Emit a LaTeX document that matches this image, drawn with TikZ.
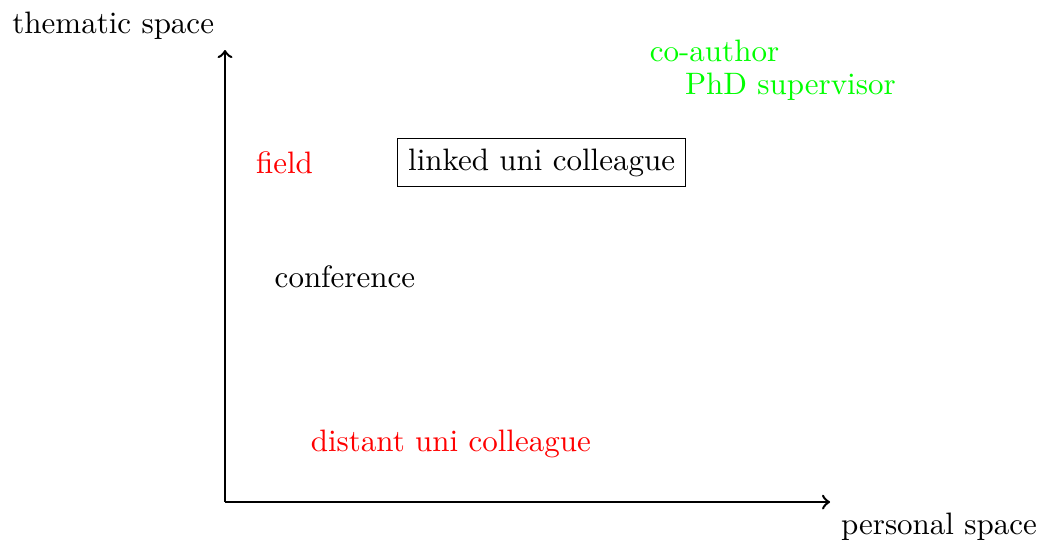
\documentclass[tikz,border=0pt]{standalone}
\usepackage[]{xcolor}
\usepackage{tikz}
\usetikzlibrary{arrows, calc}
\tikzset{axis arrow/.style = {thick, ->}}

\begin{document}
\begin{tikzpicture}
	\def\W{6.86}
	\def\H{5.125}
	\useasboundingbox (-2.551,-0.442) rectangle (9.263,5.692);
	
	\coordinate (O) at (0,0);
	\coordinate (xend) at (\W,0);
	\coordinate (yend) at (0,\H);
	
	\draw[axis arrow]	(O) -- (xend);
	\draw[axis arrow]	(O) -- (yend);
	
	\node[below right] (xlabel) at (xend) {personal space};
	\node[above left] (ylabel) at (yend) {thematic space};
	
	\node[red] (field) at (0.675,3.85) {field};
	\node[draw] (linked) at (3.59,3.85) {linked uni colleague};
	\node (conf) at (1.36,2.55) {conference};
	\node[red] (distant) at (2.56,0.66) {distant uni colleague};
	\node[green] (coauthor) at (5.55,5.11) {co-author};
	\node[green] (phd) at (6.41,4.71) {PhD supervisor};
\end{tikzpicture}
\end{document}
